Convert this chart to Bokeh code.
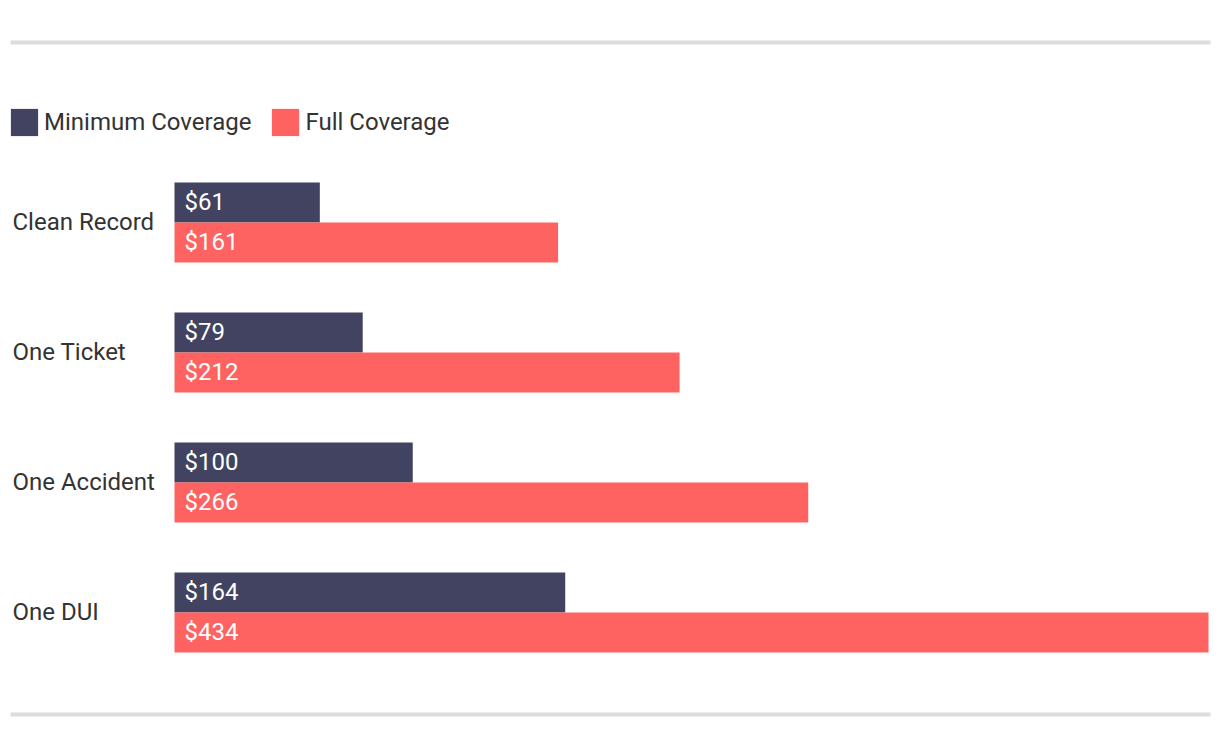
from bokeh.plotting import figure
from bokeh.models import ColumnDataSource, Range1d, Legend, LegendItem
from bokeh.transform import dodge
from bokeh.core.properties import value
from bokeh.embed import file_html
from bokeh.resources import INLINE

categories = ["Clean Record", "One Ticket", "One Accident", "One DUI"]
minimum = [61, 79, 100, 164]
full = [161, 212, 266, 434]
series_names = ["Minimum Coverage", "Full Coverage"]
colors = ["#414361", "#FF6361"]

W, H = 1220, 748
k = 1034 / 434.0          # px per dollar
x0_px = 174               # pixel of value 0
grp_px = 130              # px between groups
c0_px = 222               # pixel y of first group center

x_start = -x0_px / k
x_end = (W - x0_px) / k
y_top = -c0_px / grp_px
y_bot = (H - c0_px) / grp_px

idx = list(range(len(categories)))
src = ColumnDataSource(dict(
    y=idx, cat=categories, mn=minimum, fu=full,
    mn_lab=["$%d" % v for v in minimum],
    fu_lab=["$%d" % v for v in full],
))

p = figure(width=W, height=H, output_backend="svg", toolbar_location=None,
           x_range=Range1d(x_start, x_end), y_range=Range1d(y_bot, y_top),
           min_border=0, min_border_left=0, min_border_right=0,
           min_border_top=0, min_border_bottom=0)
p.axis.visible = False
p.grid.visible = False
p.outline_line_color = None
p.background_fill_color = "white"
p.border_fill_color = "white"

bh = 40 / grp_px
off = 20 / grp_px

r_min = p.hbar(y=dodge("y", -off), left=0, right="mn", height=bh, source=src,
               fill_color=colors[0], line_color=None)
r_full = p.hbar(y=dodge("y", off), left=0, right="fu", height=bh, source=src,
                fill_color=colors[1], line_color=None)

font = value("Roboto")
fs = "24px"
p.text(x=0, y=dodge("y", -off), text="mn_lab", source=src, x_offset=10, y_offset=-1,
       text_font=font, text_font_size=fs, text_color="white",
       text_baseline="middle", text_align="left")
p.text(x=0, y=dodge("y", off), text="fu_lab", source=src, x_offset=10, y_offset=-1,
       text_font=font, text_font_size=fs, text_color="white",
       text_baseline="middle", text_align="left")
p.text(x=(12 - x0_px) / k, y="y", text="cat", source=src, y_offset=-1,
       text_font=font, text_font_size=fs, text_color="#333333",
       text_baseline="middle", text_align="left")

# separators
lx0 = (10 - x0_px) / k
lx1 = (1210 - x0_px) / k
p.segment(x0=[lx0, lx0], x1=[lx1, lx1],
          y0=[(42 - c0_px) / grp_px, (714 - c0_px) / grp_px],
          y1=[(42 - c0_px) / grp_px, (714 - c0_px) / grp_px],
          line_color="#DDDDDD", line_width=4)

legend = Legend(items=[LegendItem(label=series_names[0], renderers=[r_min]),
                       LegendItem(label=series_names[1], renderers=[r_full])],
                orientation="horizontal", location=(7, H - 139),
                glyph_width=34, glyph_height=34, label_standoff=3, spacing=17,
                padding=0, margin=0, border_line_color=None,
                background_fill_alpha=0,
                label_text_font="Roboto", label_text_font_size=fs,
                label_text_color="#333333", label_height=34)
p.add_layout(legend, "center")

open("out.html", "w").write(file_html(p, INLINE))
